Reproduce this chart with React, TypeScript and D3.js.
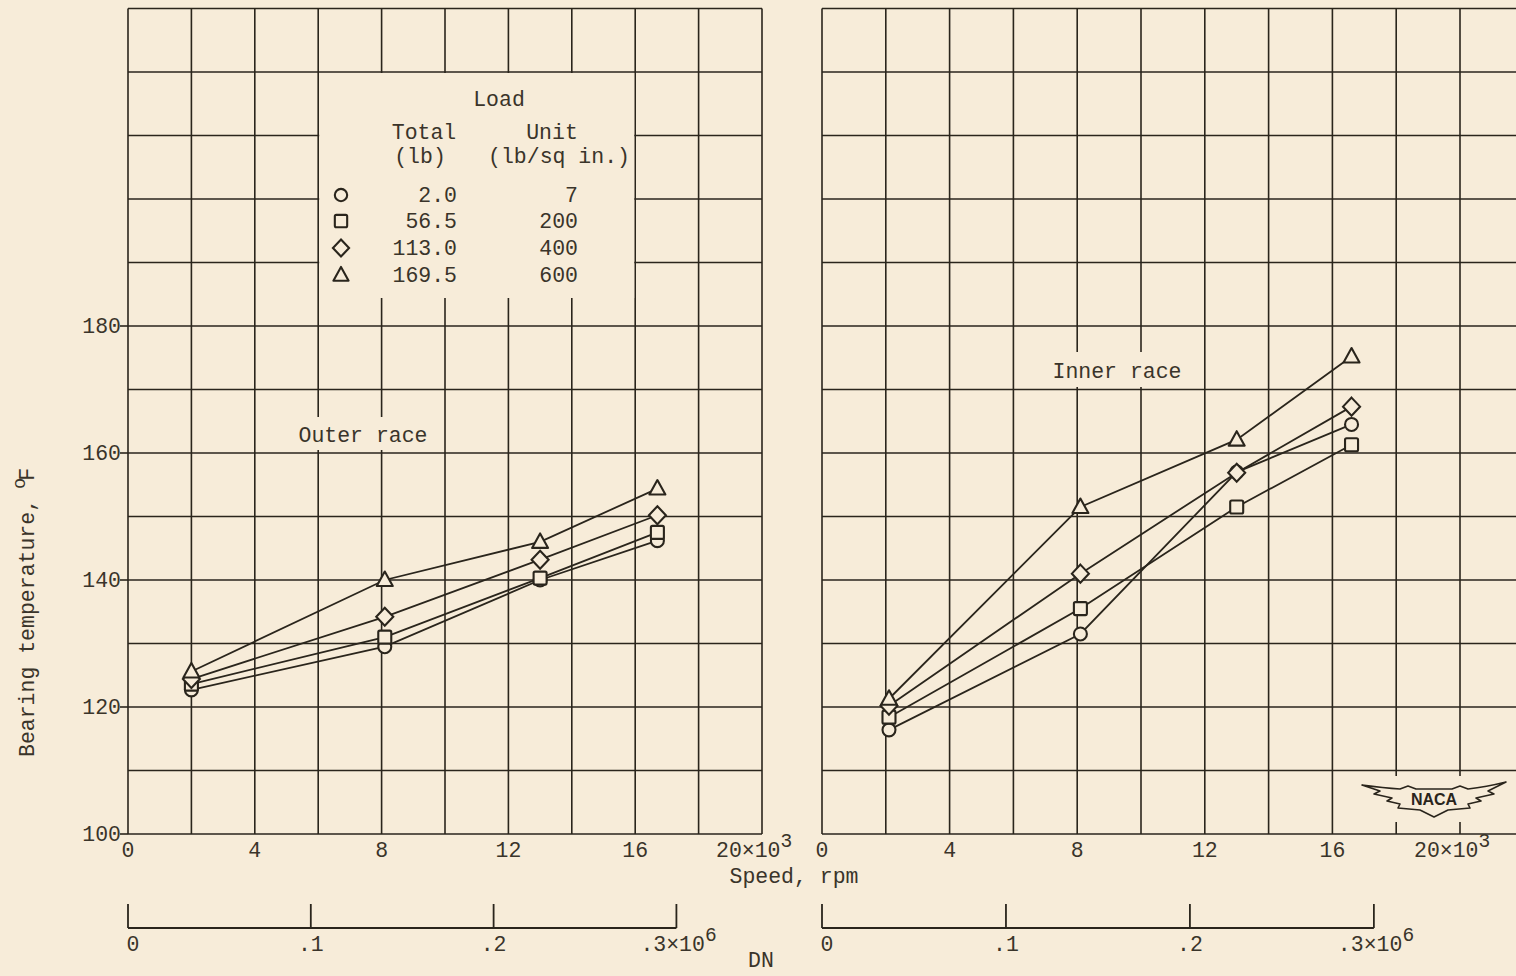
import React from "react";
import * as d3 from "d3";

// ---------- data ----------
const speedOuter = [2.0, 8.1, 13.0, 16.7]; // thousand rpm
const speedInner = [2.1, 8.1, 13.0, 16.6];

const outerCircle = [122.7, 129.5, 140.0, 146.2];
const outerSquare = [123.6, 131.0, 140.3, 147.5];
const outerDiamond = [124.4, 134.2, 143.2, 150.2];
const outerTriangle = [125.6, 140.0, 146.0, 154.4];

const innerCircle = [116.4, 131.5, 157.0, 164.5];
const innerSquare = [118.4, 135.5, 151.5, 161.3];
const innerDiamond = [120.2, 141.0, 156.9, 167.3];
const innerTriangle = [121.3, 151.5, 162.1, 175.2];

const loadShapes = ["circle", "square", "diamond", "triangle"];
const loadTotal = ["2.0", "56.5", "113.0", "169.5"];
const loadUnit = ["7", "200", "400", "600"];

const xTickLabels = [0, 4, 8, 12, 16, 20];
const yTickLabels = [100, 120, 140, 160, 180];
const dnTicks = [0, 0.1, 0.2, 0.3];
const dnEndSpeed = 17.3; // thousand rpm at DN = 0.3x10^6

// ---------- styles ----------
const W = 1516;
const H = 976;
const BG = "#f7ecd9";
const INK = "#2a251c";
const TXT = "#3a342a";
const FONT = "'Liberation Mono', 'DejaVu Sans Mono', monospace";
const FS = 21.5;

const y = d3.scaleLinear().domain([100, 230]).range([834, 8.5]);
const xL = d3.scaleLinear().domain([0, 20]).range([128, 762]);
const xR = d3.scaleLinear().domain([0, 20]).range([822, 1460]);

const gridX = d3.range(0, 21, 2);
const gridY = d3.range(100, 231, 10);

function Marker({ shape, cx, cy, k = 1 }: { shape: string; cx: number; cy: number; k?: number }) {
  const common = { fill: BG, stroke: INK, strokeWidth: 2.1 };
  if (shape === "circle") return <circle cx={cx} cy={cy} r={6.5 * k} {...common} />;
  if (shape === "square")
    return <rect x={cx - 6.5 * k} y={cy - 6.5 * k} width={13 * k} height={13 * k} rx={1.5} {...common} />;
  if (shape === "diamond") {
    const p = [[0, -9], [8.5, 0], [0, 9], [-8.5, 0]].map(([a, b]) => `${cx + a * k},${cy + b * k}`).join(" ");
    return <polygon points={p} {...common} />;
  }
  const p = [[0, -8.5], [8, 6], [-8, 6]].map(([a, b]) => `${cx + a * k},${cy + b * k}`).join(" ");
  return <polygon points={p} {...common} strokeLinejoin="round" />;
}

function Panel({ x, speeds, series, xEnd }: { x: any; speeds: number[]; series: number[][]; xEnd: number }) {
  const line = d3.line<[number, number]>().x((d) => d[0]).y((d) => d[1]);
  return (
    <g>
      {gridY.map((v) => (
        <line key={"h" + v} x1={x(0)} x2={xEnd} y1={y(v)} y2={y(v)} stroke={INK} strokeWidth={1.6} />
      ))}
      {gridX.map((v) => (
        <line key={"v" + v} x1={x(v)} x2={x(v)} y1={y(230)} y2={y(100)} stroke={INK} strokeWidth={1.6} />
      ))}
      {series.map((s, i) => (
        <path
          key={"l" + i}
          d={line(s.map((t, j) => [x(speeds[j]), y(t)]) as [number, number][]) || ""}
          fill="none"
          stroke={INK}
          strokeWidth={1.8}
        />
      ))}
    </g>
  );
}

function Points({ x, speeds, series }: { x: any; speeds: number[]; series: number[][] }) {
  return (
    <g>
      {series.map((s, i) =>
        s.map((t, j) => <Marker key={i + "-" + j} shape={loadShapes[i]} cx={x(speeds[j])} cy={y(t)} />)
      )}
    </g>
  );
}

function XLabels({ x }: { x: any }) {
  return (
    <g fontFamily={FONT} fontSize={FS} fill={TXT}>
      {xTickLabels.map((v) =>
        v === 20 ? (
          <text key={v} x={x(v) - 46} y={857}>
            20×10
            <tspan dy={-10} fontSize={FS - 2}>3</tspan>
          </text>
        ) : (
          <text key={v} x={x(v)} y={857} textAnchor="middle">
            {v}
          </text>
        )
      )}
    </g>
  );
}

function DNAxis({ x }: { x: any }) {
  const dn = d3.scaleLinear().domain([0, 0.3]).range([x(0), x(dnEndSpeed)]);
  const yl = 928;
  return (
    <g>
      <line x1={dn(0)} x2={dn(0.3)} y1={yl} y2={yl} stroke={INK} strokeWidth={1.8} />
      {dnTicks.map((v) => (
        <line key={v} x1={dn(v)} x2={dn(v)} y1={yl} y2={yl - 24} stroke={INK} strokeWidth={1.8} />
      ))}
      <g fontFamily={FONT} fontSize={FS} fill={TXT}>
        {dnTicks.map((v) =>
          v === 0.3 ? (
            <text key={v} x={dn(v) - 36} y={951}>
              .3×10
              <tspan dy={-10} fontSize={FS - 2}>6</tspan>
            </text>
          ) : (
            <text key={v} x={dn(v) + (v === 0 ? 5 : 0)} y={951} textAnchor="middle">
              {v === 0 ? "0" : "." + Math.round(v * 10)}
            </text>
          )
        )}
      </g>
    </g>
  );
}

export default function App() {
  const outer = [outerCircle, outerSquare, outerDiamond, outerTriangle];
  const inner = [innerCircle, innerSquare, innerDiamond, innerTriangle];
  const legendRowY = [195, 221, 248, 275];

  return (
    <svg
      width={W}
      height={H}
      viewBox={`0 0 ${W} ${H}`}
      style={{ position: "absolute", left: 0, top: 0, background: BG }}
    >
      <rect x={0} y={0} width={W} height={H} fill={BG} />

      <Panel x={xL} speeds={speedOuter} series={outer} xEnd={xL(20)} />
      <Panel x={xR} speeds={speedInner} series={inner} xEnd={W} />

      {/* masks over grid for legend / labels / logo */}
      <rect x={xL(6) + 1} y={y(220) + 1} width={xL(16) - xL(6) - 2} height={y(180) - y(220) - 29} fill={BG} />
      <rect x={290} y={417} width={147} height={33} fill={BG} />
      <rect x={1046} y={352} width={143} height={35} fill={BG} />
      <rect x={1356} y={776} width={160} height={46} fill={BG} />

      {/* y-axis ticks on left panel */}
      {yTickLabels.map((v) => (
        <line key={v} x1={xL(0) - 8} x2={xL(0)} y1={y(v)} y2={y(v)} stroke={INK} strokeWidth={1.6} />
      ))}

      <Points x={xL} speeds={speedOuter} series={outer} />
      <Points x={xR} speeds={speedInner} series={inner} />

      <g fontFamily={FONT} fontSize={FS} fill={TXT}>
        {yTickLabels.map((v) => (
          <text key={v} x={121} y={y(v) + 7} textAnchor="end">
            {v}
          </text>
        ))}
        <text transform="translate(34,757) rotate(-90)">
          Bearing temperature,
          <tspan dx={10} dy={-9} fontSize={FS - 3}>o</tspan>
          <tspan dx={-3} dy={9}>F</tspan>
        </text>

        {/* legend */}
        <text x={499} y={106} textAnchor="middle">Load</text>
        <text x={424} y={139} textAnchor="middle">Total</text>
        <text x={420} y={163} textAnchor="middle">(lb)</text>
        <text x={552} y={139} textAnchor="middle">Unit</text>
        <text x={559} y={163} textAnchor="middle">(lb/sq in.)</text>
        {loadTotal.map((t, i) => (
          <text key={"t" + i} x={457} y={legendRowY[i] + 7} textAnchor="end">{t}</text>
        ))}
        {loadUnit.map((t, i) => (
          <text key={"u" + i} x={578} y={legendRowY[i] + 7} textAnchor="end">{t}</text>
        ))}

        <text x={363} y={442} textAnchor="middle">Outer race</text>
        <text x={1117} y={378} textAnchor="middle">Inner race</text>

        <text x={794} y={883} textAnchor="middle">Speed, rpm</text>
        <text x={761} y={967} textAnchor="middle">DN</text>
      </g>

      {loadShapes.map((s, i) => (
        <Marker key={s} shape={s} cx={341} cy={legendRowY[i]} k={0.95} />
      ))}

      <XLabels x={xL} />
      <XLabels x={xR} />
      <DNAxis x={xL} />
      <DNAxis x={xR} />

      {/* NACA logo */}
      <g transform="translate(1434,798)">
        <path
          d="M-72,-13 Q-50,-10 -34,-9 L-26,-12 L-18,-9 L18,-9 L26,-12 L34,-9 Q52,-11 72,-16 L54,-7 L60,-4 L42,0 L47,3 L34,6 L36,10 L14,12 L0,19 L-14,12 L-36,10 L-34,6 L-47,3 L-42,0 L-60,-4 L-54,-7 Z"
          fill="none"
          stroke={INK}
          strokeWidth={1.6}
          strokeLinejoin="round"
        />
        <text x={0} y={7} textAnchor="middle" fontFamily="'Liberation Sans', Arial, sans-serif" fontWeight="bold" fontSize={16} fill={INK}>
          NACA
        </text>
      </g>
    </svg>
  );
}
